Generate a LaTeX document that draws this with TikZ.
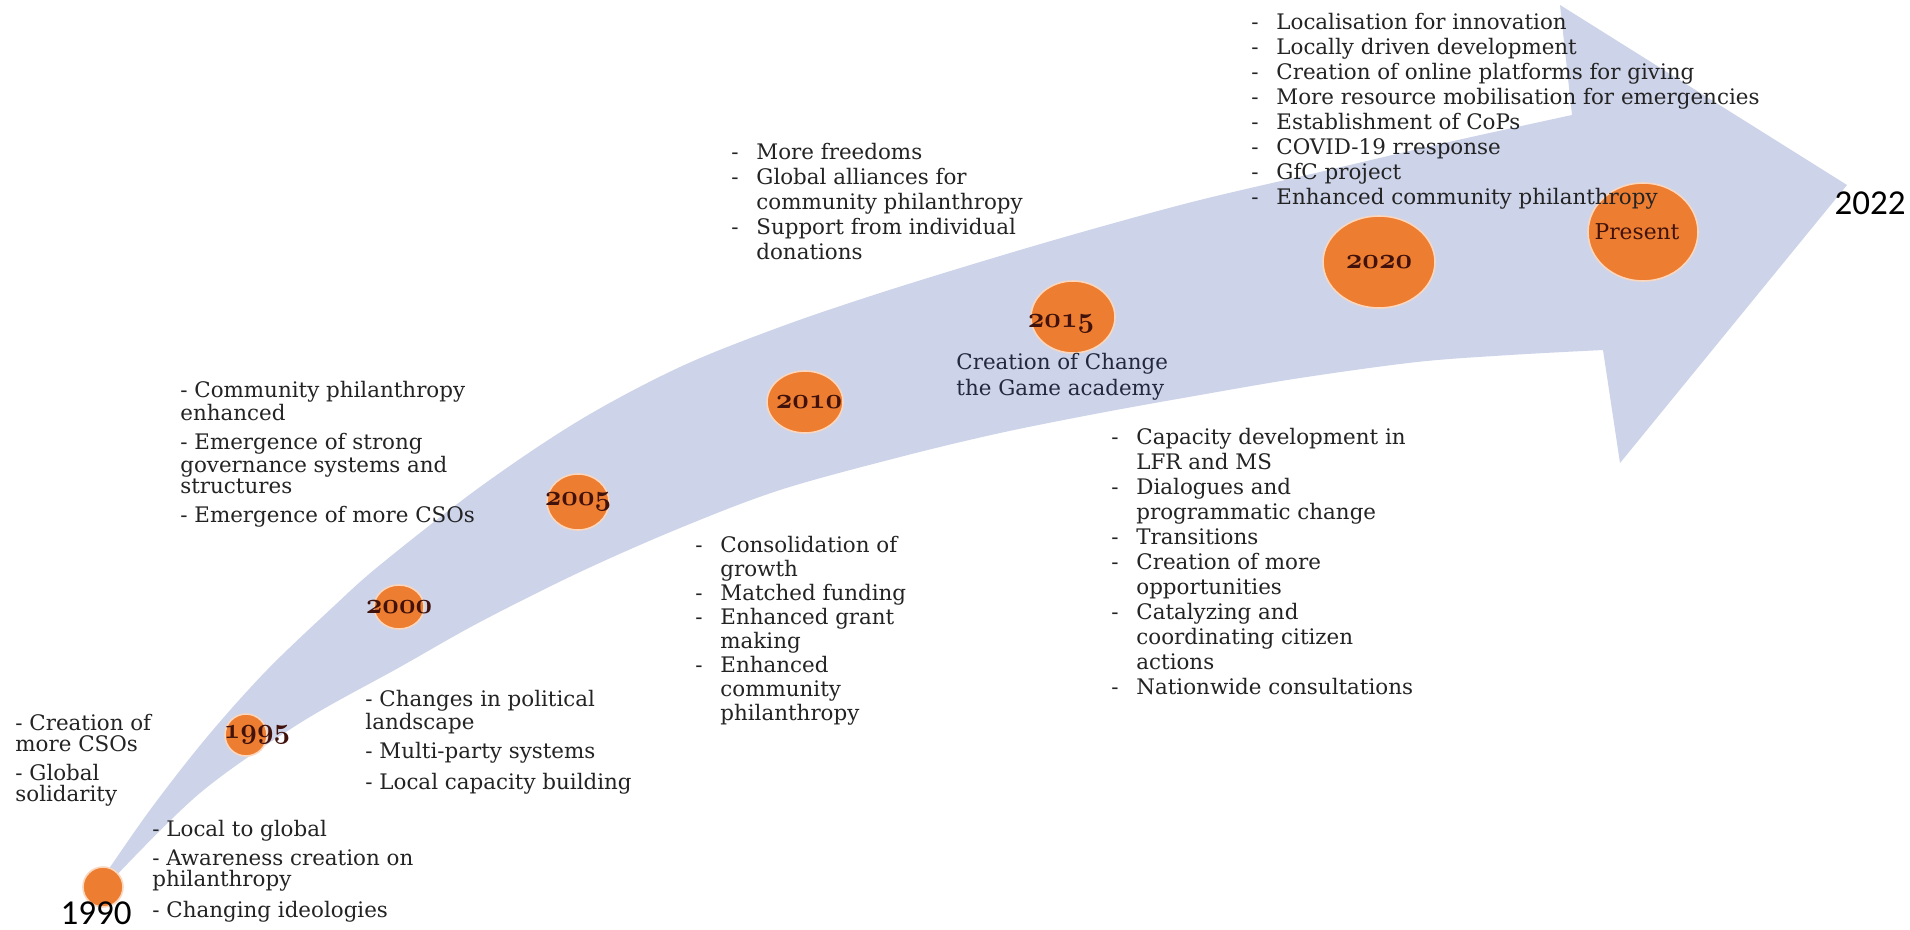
\documentclass[tikz,border=0pt]{standalone}
\usepackage{fontspec}
\setmainfont{DejaVu Serif}
\newfontfamily\calib{Carlito}
\usetikzlibrary{shapes.geometric}
\definecolor{arrowblue}{RGB}{205,211,233}
\definecolor{ballorange}{RGB}{237,125,49}
\definecolor{ballrim}{RGB}{250,215,190}
\definecolor{yearbrown}{RGB}{65,18,12}
\definecolor{bodyink}{RGB}{35,35,35}
\definecolor{navyink}{RGB}{35,40,62}
\newcommand{\dashitem}{\makebox[12.5pt][l]{-}}
\newcommand{\contline}{\hspace*{12.5pt}}
\newcommand{\yr}[1]{{\boldmath$\mathnormal{#1}$}}
\begin{document}
\begin{tikzpicture}[x=0.5pt, y=-0.5pt,
  ball/.style={ellipse, fill=ballorange, draw=ballrim, line width=0.8pt, inner sep=0pt},
  yeartxt/.style={text=yearbrown, font=\fontsize{13.5}{14}\selectfont, inner sep=0pt},
  looselist/.style={anchor=north west, align=left, inner sep=0pt, text=bodyink, font=\fontsize{10.7}{10.5}\selectfont},
  hanglist/.style={anchor=north west, align=left, inner sep=0pt, text=bodyink, font=\fontsize{10.7}{12.5}\selectfont},
  bigyear/.style={font=\calib\fontsize{17.5}{20}\selectfont, text=black, inner sep=0pt}
]
\fill[white] (0,0) rectangle (1910,930);
\useasboundingbox (0,0) rectangle (1910,930);

% curved arrow
\fill[arrowblue] plot[smooth, tension=0.55] coordinates {(100,882) (150,810) (207,737) (267,670) (333,607) (380,565) (480,487) (580,420) (680,367) (780,327) (880,293) (1000,256) (1100,227) (1200,200) (1320,172) (1440,144) (1572,115)}
  -- (1560,5) -- (1847,185) -- (1620,463)
  -- plot[smooth, tension=0.55] coordinates {(1603,350) (1510,355) (1417,362) (1300,378) (1200,395) (1100,413) (1000,433) (900,457) (780,490) (680,528) (580,572) (480,622) (400,667) (300,723) (200,793) (112,880)} -- cycle;

% milestones
\node[ball, minimum width=20pt, minimum height=20pt] (c1990) at (103,887) {};
\node[ball, minimum width=21pt, minimum height=21pt] (c1995) at (246,735) {};
\node[ball, minimum width=25pt, minimum height=22pt] (c2000) at (399,607) {};
\node[ball, minimum width=31pt, minimum height=28pt] (c2005) at (578,502) {};
\node[ball, minimum width=38pt, minimum height=31pt] (c2010) at (805,402) {};
\node[ball, minimum width=42pt, minimum height=36pt] (c2015) at (1073,317) {};
\node[ball, minimum width=56pt, minimum height=46pt] (c2020) at (1379,262) {};
\node[ball, minimum width=55pt, minimum height=49pt] (cpresent) at (1643,232) {};

\node[yeartxt] (t1995) at ([xshift=5.5pt]c1995.center) {\yr{1995}};
\node[yeartxt] (t2000) at (c2000.center) {\yr{2000}};
\node[yeartxt] (t2005) at (c2005.center) {\yr{2005}};
\node[yeartxt] (t2010) at ([xshift=2pt]c2010.center) {\yr{2010}};
\node[yeartxt] (t2015) at ([xshift=-6pt,yshift=-3.5pt]c2015.center) {\yr{2015}};
\node[yeartxt] (t2020) at (c2020.center) {\yr{2020}};
\node[yeartxt, font=\fontsize{10.9}{12}\selectfont] (tpresent) at ([xshift=-3pt]cpresent.center) {Present};

\node[bigyear] (t1990) at (96,913) {1990};
\node[bigyear] (t2022) at (1870,203) {2022};

% text blocks
\node[looselist] (nA) at (15,714) {- Creation of\\ more CSOs\\[4pt] - Global\\ solidarity};
\node[looselist] (nB) at (152,820) {- Local to global\\[4pt] - Awareness creation on\\ philanthropy\\[4pt] - Changing ideologies};
\node[looselist] (nC) at (365,690) {- Changes in political\\ landscape\\[4pt] - Multi-party systems\\[4pt] - Local capacity building};
\node[looselist] (nD) at (180,381) {- Community philanthropy\\ enhanced\\[4pt] - Emergence of strong\\ governance systems and\\ structures\\[4pt] - Emergence of more CSOs};

\node[hanglist, font=\fontsize{10.7}{12}\selectfont] (nE) at (695,536) {\dashitem Consolidation of\\\contline growth\\\dashitem Matched funding\\\dashitem Enhanced grant\\\contline making\\\dashitem Enhanced\\\contline community\\\contline philanthropy};
\node[hanglist] (nF) at (1111,428) {\dashitem Capacity development in\\\contline LFR and MS\\\dashitem Dialogues and\\\contline programmatic change\\\dashitem Transitions\\\dashitem Creation of more\\\contline opportunities\\\dashitem Catalyzing and\\\contline coordinating citizen\\\contline actions\\\dashitem Nationwide consultations};
\node[hanglist] (nG) at (731,143) {\dashitem More freedoms\\\dashitem Global alliances for\\\contline community philanthropy\\\dashitem Support from individual\\\contline donations};
\node[hanglist] (nH) at (1251,13) {\dashitem Localisation for innovation\\\dashitem Locally driven development\\\dashitem Creation of online platforms for giving\\\dashitem More resource mobilisation for emergencies\\\dashitem Establishment of CoPs\\\dashitem COVID-19 rresponse\\\dashitem GfC project\\\dashitem Enhanced community philanthropy};
\node[hanglist, text=navyink, font=\fontsize{10.7}{13}\selectfont] (nCG) at (956,353) {Creation of Change\\the Game academy};
\end{tikzpicture}
\end{document}
